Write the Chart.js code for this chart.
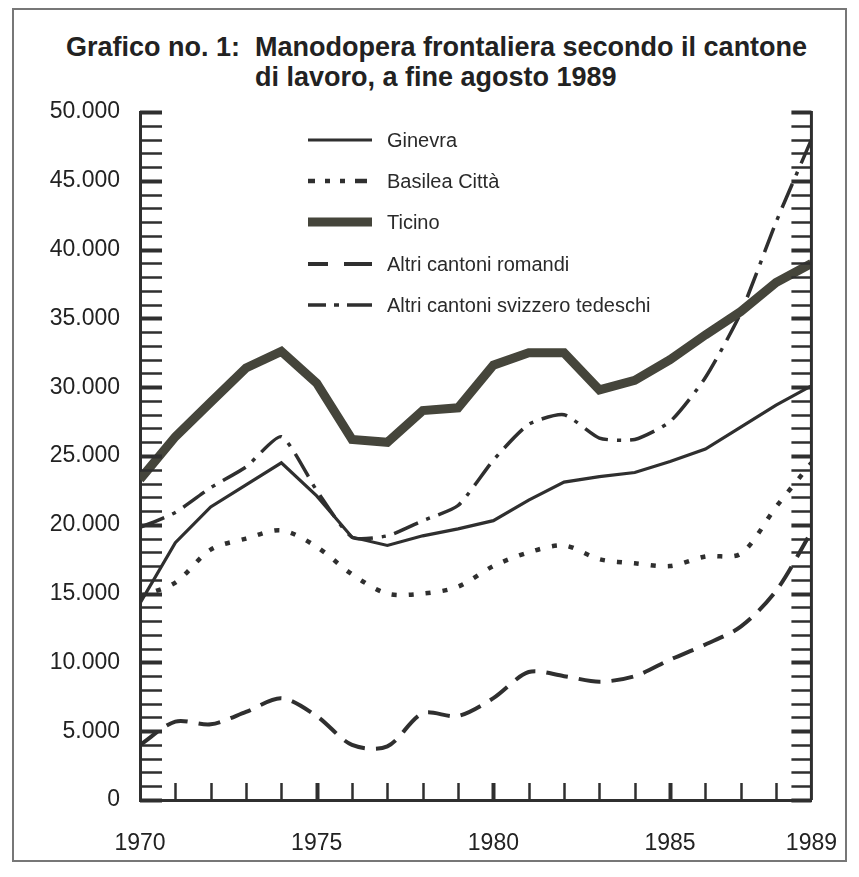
<!DOCTYPE html>
<html lang="it">
<head>
<meta charset="utf-8">
<title>Manodopera frontaliera secondo il cantone di lavoro</title>
<script src="https://cdn.jsdelivr.net/npm/chart.js@4.4.0/dist/chart.umd.min.js"></script>
<style>
    html, body { margin: 0; padding: 0; background: #fff; }
    .page { position: relative; width: 859px; height: 877px; overflow: hidden; }
    .frame { position: absolute; left: 12px; top: 8px; width: 835px; height: 854px; border: 2px solid #777; box-sizing: border-box; }
    .title { position: absolute; font-family: "Liberation Sans", Arial, sans-serif; font-weight: bold; font-size: 27px; line-height: 27px; color: #222; white-space: pre; }
    #chart { position: absolute; left: 0; top: 0; }
</style>
</head>
<body>
<div class="page">
    <div class="frame"></div>
    <div class="title" style="left:66px; top:34px;">Grafico no. 1:  Manodopera frontaliera secondo il cantone</div>
    <div class="title" style="left:255px; top:64px;">di lavoro, a fine agosto 1989</div>
    <canvas id="chart" width="859" height="877"></canvas>
</div>
<script>
// Years on the x axis (1989 = end of August)
const years = [1970, 1971, 1972, 1973, 1974, 1975, 1976, 1977, 1978, 1979,
               1980, 1981, 1982, 1983, 1984, 1985, 1986, 1987, 1988, 1989];

// Cross-border workers per canton
const ginevra = [14300, 18700, 21300, 22900, 24500, 22100, 19100, 18500, 19200, 19700,
                 20300, 21800, 23100, 23500, 23800, 24600, 25500, 27100, 28700, 30100];
const basileaCitta = [14800, 15800, 18200, 19000, 19600, 18400, 16400, 15000, 15000, 15500,
                      17000, 18000, 18500, 17500, 17200, 17000, 17700, 17900, 21300, 24500];
const ticino = [23300, 26400, 28900, 31400, 32600, 30300, 26200, 26000, 28300, 28500,
                31600, 32500, 32500, 29800, 30500, 32000, 33800, 35500, 37600, 39000];
const altriRomandi = [4000, 5700, 5500, 6400, 7400, 6100, 4000, 3900, 6300, 6100,
                      7400, 9300, 9000, 8600, 9000, 10200, 11300, 12600, 15200, 19500];
const altriTedeschi = [19800, 20900, 22700, 24200, 26400, 22500, 19100, 19200, 20300, 21400,
                       24700, 27300, 28000, 26300, 26200, 27500, 30700, 35400, 42000, 48000];

// Tick labels
const xTickYears = [1970, 1975, 1980, 1985, 1989];
const yMax = 50000;
const yStep = 5000;
const yMinorStep = 1000;

const INK = '#2f2f2f';
const FONT = '"Liberation Sans", Arial, sans-serif';

class FrontalieriChart {
    constructor() {
        this.initializeChart();
    }

    static formatThousands(v) {
        return String(v).replace(/\B(?=(\d{3})+(?!\d))/g, '.');
    }

    buildSeries(values) {
        return years.map((yr, i) => ({ x: yr, y: values[i] }));
    }

    // inward ticks on left, right and bottom axes + right axis line
    axisTicksPlugin() {
        return {
            id: 'axisTicks',
            afterDatasetsDraw(chart) {
                const { ctx, chartArea, scales } = chart;
                const { left, right, top, bottom } = chartArea;
                ctx.save();
                ctx.strokeStyle = INK;
                ctx.lineCap = 'butt';

                // right axis line
                ctx.lineWidth = 3;
                ctx.beginPath();
                ctx.moveTo(right, top - 1);
                ctx.lineTo(right, bottom);
                ctx.stroke();

                for (let v = 0; v <= yMax; v += yMinorStep) {
                    const y = Math.round(scales.y.getPixelForValue(v)) + 0.5;
                    const major = v % yStep === 0;
                    ctx.lineWidth = major ? 4 : 2.5;
                    ctx.beginPath();
                    ctx.moveTo(left, y);
                    ctx.lineTo(left + 22, y);
                    ctx.moveTo(right, y);
                    ctx.lineTo(right - 20, y);
                    ctx.stroke();
                }

                for (let yr = years[0] + 1; yr < years[years.length - 1]; yr++) {
                    const x = Math.round(scales.x.getPixelForValue(yr)) + 0.5;
                    ctx.lineWidth = yr % 5 === 0 ? 4 : 2.5;
                    ctx.beginPath();
                    ctx.moveTo(x, bottom);
                    ctx.lineTo(x, bottom - 17);
                    ctx.stroke();
                }
                ctx.restore();
            }
        };
    }

    // legend drawn inside the plot, top centre
    insideLegendPlugin() {
        return {
            id: 'insideLegend',
            afterDraw(chart) {
                const { ctx } = chart;
                const rowsY = [140, 181, 222, 264, 305];
                ctx.save();
                chart.data.datasets.forEach((ds, i) => {
                    const y = rowsY[i];
                    ctx.strokeStyle = ds.borderColor;
                    ctx.lineWidth = ds.borderWidth;
                    ctx.setLineDash(ds.legendDash || ds.borderDash || []);
                    ctx.beginPath();
                    ctx.moveTo(308, y);
                    ctx.lineTo(372, y);
                    ctx.stroke();
                    ctx.setLineDash([]);
                    ctx.fillStyle = '#2a2a2a';
                    ctx.font = `20px ${FONT}`;
                    ctx.textBaseline = 'middle';
                    ctx.textAlign = 'left';
                    ctx.fillText(ds.label, 387, y + 1);
                });
                ctx.restore();
            }
        };
    }

    initializeChart() {
        const ctx = document.getElementById('chart').getContext('2d');
        window.frontalieriChart = new Chart(ctx, {
            type: 'line',
            data: {
                datasets: [
                    {
                        label: 'Ginevra',
                        data: this.buildSeries(ginevra),
                        borderColor: INK,
                        borderWidth: 3.2,
                        tension: 0
                    },
                    {
                        label: 'Basilea Città',
                        data: this.buildSeries(basileaCitta),
                        borderColor: INK,
                        borderWidth: 4.5,
                        borderDash: [5, 12],
                        legendDash: [7, 10, 5, 10, 5, 10, 12],
                        tension: 0.3
                    },
                    {
                        label: 'Ticino',
                        data: this.buildSeries(ticino),
                        borderColor: '#45453b',
                        borderWidth: 9,
                        borderJoinStyle: 'miter',
                        tension: 0
                    },
                    {
                        label: 'Altri cantoni romandi',
                        data: this.buildSeries(altriRomandi),
                        borderColor: INK,
                        borderWidth: 4,
                        borderDash: [22, 11],
                        legendDash: [20, 16, 28],
                        tension: 0.3
                    },
                    {
                        label: 'Altri cantoni svizzero tedeschi',
                        data: this.buildSeries(altriTedeschi),
                        borderColor: INK,
                        borderWidth: 3.5,
                        borderDash: [26, 9, 4, 9],
                        legendDash: [18, 8, 5, 8, 30],
                        tension: 0.2
                    }
                ]
            },
            options: {
                responsive: false,
                animation: false,
                devicePixelRatio: 1,
                layout: {
                    padding: { left: 0, right: 39, top: 112, bottom: 0 }
                },
                elements: {
                    point: { radius: 0 },
                    line: { fill: false, capBezierPoints: true }
                },
                plugins: {
                    legend: { display: false },
                    title: { display: false },
                    tooltip: { enabled: false }
                },
                scales: {
                    x: {
                        type: 'linear',
                        min: years[0],
                        max: years[years.length - 1],
                        grid: { display: false },
                        border: { display: true, color: INK, width: 3 },
                        ticks: {
                            stepSize: 1,
                            autoSkip: false,
                            maxRotation: 0,
                            padding: 22,
                            color: '#222',
                            font: { family: FONT, size: 23 },
                            callback: (v) => xTickYears.includes(v) ? String(v) : ''
                        },
                        afterFit: (scale) => { scale.height = 77; }
                    },
                    y: {
                        type: 'linear',
                        min: 0,
                        max: yMax,
                        grid: { display: false },
                        border: { display: true, color: INK, width: 3 },
                        ticks: {
                            stepSize: yStep,
                            padding: 12,
                            color: '#222',
                            font: { family: FONT, size: 23 },
                            callback: (v) => FrontalieriChart.formatThousands(v)
                        },
                        afterFit: (scale) => { scale.width = 140; }
                    }
                }
            },
            plugins: [this.axisTicksPlugin(), this.insideLegendPlugin()]
        });
    }
}

document.addEventListener('DOMContentLoaded', () => {
    new FrontalieriChart();
});
</script>
</body>
</html>
